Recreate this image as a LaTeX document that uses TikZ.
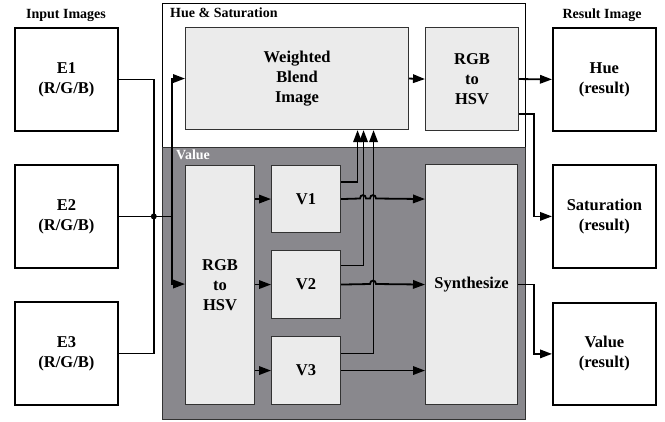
\documentclass[tikz,border=0pt]{standalone}
\usepackage{fontspec}
\setmainfont{Liberation Serif}
\usetikzlibrary{arrows.meta,calc}
\definecolor{lightbox}{RGB}{235,235,235}
\definecolor{darkpanel}{RGB}{137,136,141}
\definecolor{boxline}{RGB}{50,50,50}
\begin{document}
\begin{tikzpicture}[x=1pt,y=-1pt,
  iobox/.style={draw=black,line width=1.8pt,fill=white,anchor=north west,
    align=center,inner sep=0pt,font=\fontsize{16.5}{20}\selectfont\bfseries},
  lbox/.style={draw=boxline,line width=1.1pt,fill=lightbox,anchor=north west,
    align=center,inner sep=0pt,font=\fontsize{16.5}{20}\selectfont\bfseries},
  grouplabel/.style={font=\fontsize{14}{16}\selectfont\bfseries,inner sep=0pt},
  conn/.style={line width=1.8pt,line join=miter},
  arr/.style={conn,-{Triangle[length=12pt,width=8.5pt]}}]
\useasboundingbox (0,0) rectangle (665,421);
% group panels
\node[draw=black,line width=0.8pt,fill=white,anchor=north west,minimum width=363pt,minimum height=144pt,inner sep=0pt] (hsbox) at (162,3) {};
\node[draw=boxline,line width=0.8pt,fill=darkpanel,anchor=north west,minimum width=363pt,minimum height=272pt,inner sep=0pt] (valbox) at (162,147) {};
\node[grouplabel,anchor=north west] (hslab) at (170,8) {Hue \& Saturation};
\node[grouplabel,anchor=north west,text=white] (vallab) at (176,150) {Value};
\node[grouplabel] (inlab) at (66,15) {Input Images};
\node[grouplabel] (reslab) at (602,15) {Result Image};
% input boxes
\node[iobox,minimum width=103pt,minimum height=103pt] (e1) at (14,27) {E1\\(R/G/B)};
\node[iobox,minimum width=103pt,minimum height=103pt] (e2) at (14,164) {E2\\(R/G/B)};
\node[iobox,minimum width=103pt,minimum height=103pt] (e3) at (14,301) {E3\\(R/G/B)};
% result boxes
\node[iobox,minimum width=103pt,minimum height=103pt] (hue) at (552,27) {Hue\\(result)};
\node[iobox,minimum width=103pt,minimum height=103pt] (sat) at (552,164) {Saturation\\(result)};
\node[iobox,minimum width=103pt,minimum height=102pt] (valr) at (552,302) {Value\\(result)};
% processing boxes
\node[lbox,minimum width=223pt,minimum height=102pt] (wb) at (185,27) {Weighted\\Blend\\Image};
\node[lbox,minimum width=93pt,minimum height=103pt] (rgbA) at (425,27) {RGB\\to\\HSV};
\node[lbox,minimum width=69pt,minimum height=239pt] (rgbB) at (185,165) {RGB\\to\\HSV};
\node[lbox,minimum width=69pt,minimum height=67pt] (v1) at (271,165) {V1};
\node[lbox,minimum width=69pt,minimum height=68pt] (v2) at (271,250) {V2};
\node[lbox,minimum width=69pt,minimum height=68pt] (v3) at (271,336) {V3};
\node[lbox,minimum width=92pt,minimum height=240pt] (syn) at (425,164) {Synthesize};
% input connectors
\coordinate (jn) at ($(e2.east)+(35,0)$);
\coordinate (bus) at ($(e2.east)+(53,0)$);
\draw[conn] (e1.east) -| (jn);
\draw[conn] (e3.east) -| (jn);
\draw[conn] (e2.east) -- (bus);
\fill (jn) circle (3pt);
\draw[arr] (bus) |- (wb.west);
\draw[arr] (bus) |- ($(rgbB.west)+(0,-1)$);
% rgb -> V
\draw[arr] (rgbB.east |- v1.west) -- (v1.west);
\draw[arr] (rgbB.east |- v2.west) -- (v2.west);
\draw[arr] (rgbB.east |- v3.west) -- (v3.west);
% V upper outputs to blend
\draw[arr] ($(v1.east)+(0,-17)$) -| ([xshift=60.5pt]wb.south);
\draw[arr] ($(v2.east)+(0,-19)$) -| ([xshift=66.5pt]wb.south);
\draw[arr] ($(v3.east)+(0,-17)$) -| ([xshift=76.5pt]wb.south);
% V lower outputs to synthesize with hops
\draw[arr] (v1.east) -- (360,198.5) .. controls (360,194) and (366,194) .. (366,198.5)
  -- (370,198.5) .. controls (370,194) and (376,194) .. (376,198.5) -- (syn.west |- v1.east);
\draw[arr] (v2.east) -- (370,284) .. controls (370,279.5) and (376,279.5) .. (376,284) -- (syn.west |- v2.east);
\draw[arr] (v3.east) -- (syn.west |- v3.east);
% right side
\draw[arr] (wb.east) -- (rgbA.west);
\draw[arr] (rgbA.east) -- (hue.west);
\draw[arr] ($(rgbA.east)+(0,35)$) -- ++(15,0) |- (sat.west);
\draw[arr] (syn.east) -- ++(16,0) |- (valr.west);
\end{tikzpicture}
\end{document}
